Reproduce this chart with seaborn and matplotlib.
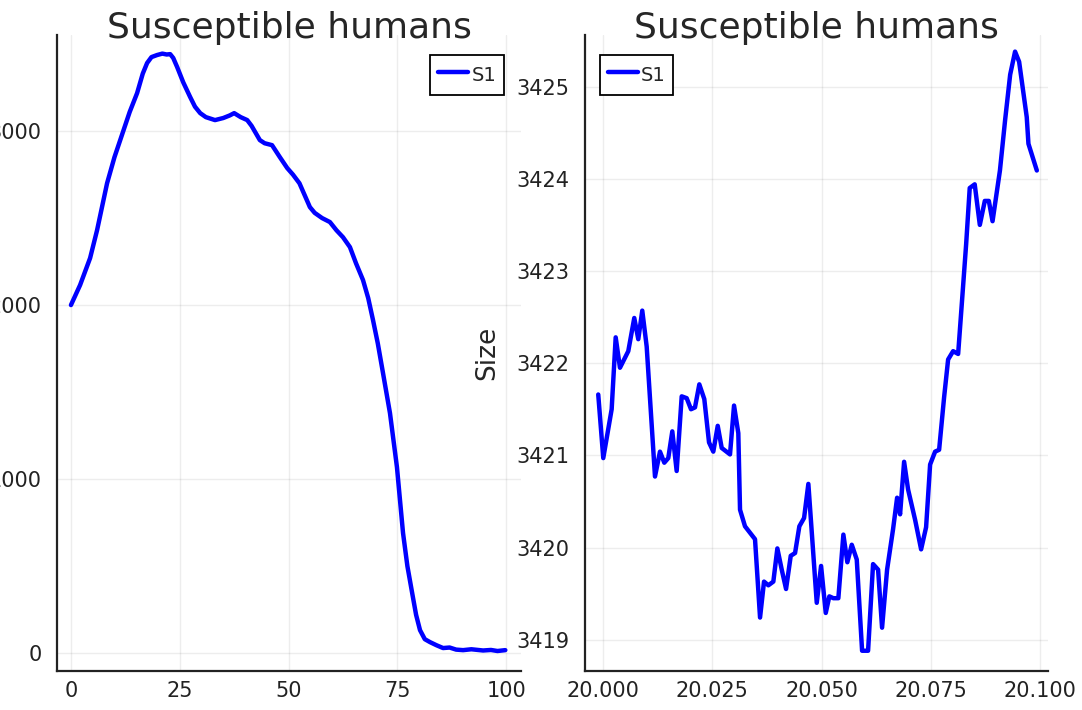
import matplotlib
matplotlib.use("Agg")
import matplotlib.pyplot as plt
import seaborn as sns

sns.set_style("white")
plt.rcParams["font.family"] = ["DejaVu Sans"]

# panel 1: whole run, t = 0..100
t_full = [0, 2.1, 4.4, 6.0, 8.3, 10, 12.1, 13.5, 15.2, 16.5, 17.5, 18.5, 19.8, 21,
          22, 22.8, 23.5, 24.4, 25.8, 27.4, 28.5, 29.7, 31, 33.1, 35, 36.5, 37.5,
          39, 40.5, 41.5, 43.4, 44.5, 46.2, 48, 49.7, 51, 52.5, 54.9, 56, 57.7,
          59.5, 61, 62.5, 64.1, 65.5, 67.1, 68.3, 69.4, 70.5, 71.7, 73.3, 74.9,
          76.3, 77.3, 78.4, 79.3, 80.2, 81.3, 82.5, 84, 85.5, 87, 88.5, 90.1, 92,
          94.7, 96.5, 98, 99.8]
s_full = [2000, 2115, 2270, 2430, 2700, 2850, 3006, 3110, 3218, 3330, 3391, 3425,
          3437, 3445, 3440, 3442, 3420, 3368, 3280, 3195, 3140, 3103, 3080, 3063,
          3075, 3090, 3103, 3080, 3063, 3030, 2948, 2930, 2919, 2850, 2787, 2750,
          2700, 2563, 2530, 2500, 2477, 2430, 2390, 2333, 2240, 2144, 2040, 1914,
          1780, 1609, 1379, 1069, 690, 500, 345, 220, 132, 80, 63, 45, 29, 32, 20,
          17, 22, 15, 18, 12, 17]

# panel 2: zoom on t = 20.00..20.10
t_zoom = [19.99892, 20.00007, 20.00199, 20.00291, 20.00389, 20.00579, 20.00716,
          20.00808, 20.00899, 20.01000, 20.01190, 20.01304, 20.01403, 20.01494,
          20.01586, 20.01686, 20.01801, 20.01915, 20.02014, 20.02105, 20.02204,
          20.02318, 20.02426, 20.02524, 20.02625, 20.02716, 20.02906, 20.02998,
          20.03096, 20.03135, 20.03249, 20.03478, 20.03593, 20.03684, 20.03783,
          20.03897, 20.03989, 20.04089, 20.04188, 20.04295, 20.04394, 20.04492,
          20.04600, 20.04698, 20.04890, 20.04989, 20.05096, 20.05178, 20.05270,
          20.05384, 20.05499, 20.05590, 20.05691, 20.05805, 20.05927, 20.06064,
          20.06178, 20.06293, 20.06384, 20.06499, 20.06636, 20.06728, 20.06796,
          20.06888, 20.06979, 20.07140, 20.07277, 20.07391, 20.07483, 20.07597,
          20.07689, 20.07803, 20.07895, 20.08009, 20.08124, 20.08215, 20.08307,
          20.08389, 20.08503, 20.08620, 20.08734, 20.08826, 20.08911, 20.09080,
          20.09199, 20.09314, 20.09426, 20.09519, 20.09693, 20.09732, 20.09924]
s_zoom = [3421.66, 3420.97, 3421.50, 3422.28, 3421.95, 3422.13, 3422.49, 3422.26,
          3422.57, 3422.18, 3420.77, 3421.04, 3420.92, 3420.97, 3421.26, 3420.83,
          3421.64, 3421.62, 3421.50, 3421.52, 3421.77, 3421.61, 3421.14, 3421.04,
          3421.32, 3421.08, 3421.01, 3421.54, 3421.24, 3420.41, 3420.23, 3420.09,
          3419.24, 3419.63, 3419.59, 3419.63, 3419.99, 3419.76, 3419.55, 3419.91,
          3419.94, 3420.23, 3420.32, 3420.69, 3419.40, 3419.80, 3419.29, 3419.47,
          3419.45, 3419.45, 3420.14, 3419.84, 3420.03, 3419.87, 3418.88, 3418.88,
          3419.82, 3419.76, 3419.13, 3419.76, 3420.20, 3420.54, 3420.36, 3420.93,
          3420.63, 3420.30, 3419.98, 3420.22, 3420.90, 3421.04, 3421.06, 3421.63,
          3422.04, 3422.13, 3422.10, 3422.69, 3423.29, 3423.90, 3423.94, 3423.50,
          3423.76, 3423.76, 3423.54, 3424.09, 3424.64, 3425.13, 3425.38, 3425.27,
          3424.67, 3424.38, 3424.09]

full_ticks_x = [0, 25, 50, 75, 100]
full_ticks_y = [0, 1000, 2000, 3000]
zoom_ticks_x = [20.000, 20.025, 20.050, 20.075, 20.100]
zoom_ticks_y = [3419, 3420, 3421, 3422, 3423, 3424, 3425]

fig = plt.figure(figsize=(10.82, 7.10), dpi=100)
ax1 = fig.add_axes([0.0527, 0.0549, 0.4288, 0.8958])
ax2 = fig.add_axes([0.5407, 0.0549, 0.4279, 0.8958])


def style_axis(ax):
    for side in ["top", "right"]:
        ax.spines[side].set_visible(False)
    for side in ["left", "bottom"]:
        ax.spines[side].set_linewidth(1.6)
        ax.spines[side].set_color("#222222")
    ax.grid(True, color="black", alpha=0.07, linewidth=1.0)
    ax.tick_params(axis="both", direction="in", length=6.5, width=1.0,
                   labelsize=15, colors="#222222")
    ax.tick_params(axis="x", pad=7)
    ax.tick_params(axis="y", pad=11)
    ax.set_xlabel("")


def add_legend(ax, loc, anchor):
    leg = ax.legend(loc=loc, bbox_to_anchor=anchor, borderaxespad=0,
                    fontsize=14, fancybox=False, framealpha=1,
                    edgecolor="black", handlelength=1.55, handleheight=1.6,
                    handletextpad=0.15, borderpad=0.4)
    leg.get_frame().set_linewidth(1.3)


sns.lineplot(x=t_full, y=s_full, ax=ax1, color="blue", linewidth=3.2,
             label="S1", estimator=None, sort=False)
ax1.set_xlim(-3.2, 103.4)
ax1.set_ylim(-103, 3552)
ax1.set_xticks(full_ticks_x)
ax1.set_yticks(full_ticks_y)
ax1.set_yticklabels([str(v) for v in full_ticks_y])
ax1.set_title("Susceptible humans", fontsize=26, pad=-2)
ax1.set_ylabel("")
style_axis(ax1)
add_legend(ax1, "upper right", (0.963, 0.969))

sns.lineplot(x=t_zoom, y=s_zoom, ax=ax2, color="blue", linewidth=3.2,
             label="S1", estimator=None, sort=False)
ax2.set_xlim(19.9959, 20.1018)
ax2.set_ylim(3418.66, 3425.56)
ax2.set_xticks(zoom_ticks_x)
ax2.set_xticklabels([f"{v:.3f}" for v in zoom_ticks_x])
ax2.set_yticks(zoom_ticks_y)
ax2.set_yticklabels([str(v) for v in zoom_ticks_y])
ax2.set_title("Susceptible humans", fontsize=26, pad=-2)
ax2.set_ylabel("Size", fontsize=19, labelpad=12)
style_axis(ax2)
add_legend(ax2, "upper left", (0.032, 0.969))

fig.savefig("out.png", dpi=100)
plt.close(fig)
